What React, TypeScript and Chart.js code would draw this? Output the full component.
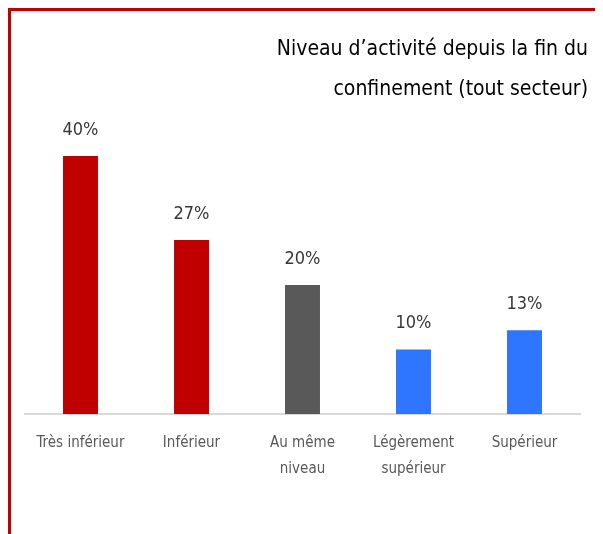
import React, { useEffect, useRef } from "react";
import { Chart, registerables } from "chart.js";

Chart.register(...registerables);

const categories: (string | string[])[] = [
  "Très inférieur",
  "Inférieur",
  ["Au même", "niveau"],
  ["Légèrement", "supérieur"],
  "Supérieur",
];
const values = [40, 27, 20, 10, 13];
const barColors = ["#C00000", "#C00000", "#595959", "#2E75FF", "#2E75FF"];
const titleLines = ["Niveau d’activité depuis la fin du", "confinement (tout secteur)"];

const FONT = "'Liberation Sans Narrow', 'DejaVu Sans Condensed', sans-serif";

const valueLabels = {
  id: "valueLabels",
  afterDatasetsDraw(chart: any) {
    const ctx = chart.ctx;
    const meta = chart.getDatasetMeta(0);
    ctx.save();
    ctx.font = `18px ${FONT}`;
    ctx.fillStyle = "#383838";
    ctx.textAlign = "center";
    ctx.textBaseline = "middle";
    meta.data.forEach((bar: any, i: number) => {
      ctx.fillText(`${values[i]}%`, bar.x, bar.y - 26);
    });
    ctx.restore();
  },
};

export default function App() {
  const ref = useRef<HTMLCanvasElement>(null);
  useEffect(() => {
    document.documentElement.style.overflow = "hidden";
    document.body.style.overflow = "hidden";
    const chart = new Chart(ref.current!, {
      type: "bar",
      data: {
        labels: categories,
        datasets: [
          {
            data: values,
            backgroundColor: barColors,
            categoryPercentage: 1,
            barPercentage: 0.315,
          },
        ],
      },
      options: {
        animation: false,
        responsive: true,
        maintainAspectRatio: false,
        layout: { padding: { left: 14, right: 15, top: 0, bottom: 44 } },
        plugins: {
          legend: { display: false },
          tooltip: { enabled: false },
          title: {
            display: true,
            text: titleLines,
            align: "end",
            color: "#000000",
            font: { family: FONT, size: 21, weight: "normal", lineHeight: 1.9 },
            padding: { top: 19, bottom: 14 },
          },
        },
        scales: {
          x: {
            grid: { display: false },
            border: { display: true, color: "#d9d9d9", width: 2 },
            ticks: {
              color: "#595959",
              padding: 8,
              maxRotation: 0,
              autoSkip: false,
              font: { family: FONT, size: 15, lineHeight: 1.73 },
            },
          },
          y: {
            position: "right",
            min: 0,
            max: 45,
            grid: { display: false },
            border: { display: false },
            ticks: { display: false },
            afterFit(scale: any) {
              scale.width = 8;
            },
          },
        },
      },
      plugins: [valueLabels],
    });
    return () => chart.destroy();
  }, []);
  return (
    <div
      style={{
        width: 592,
        height: 523,
        borderTop: "3px solid #C00000",
        borderLeft: "3px solid #C00000",
        position: "relative",
      }}
    >
      <canvas ref={ref} />
    </div>
  );
}
